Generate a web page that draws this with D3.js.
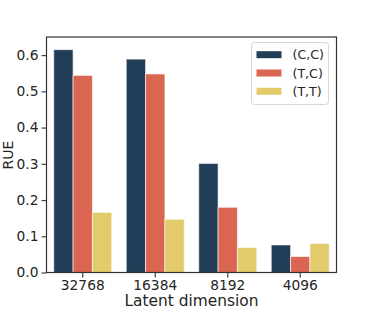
<!DOCTYPE html>
<html><head><meta charset="utf-8">
<script src="https://cdn.jsdelivr.net/npm/d3@7"></script>
<style>body{margin:0;background:#fff}svg{display:block}text{font-family:"DejaVu Sans",sans-serif;fill:#262626}</style>
</head><body><svg id="c" width="374" height="312"></svg>
<script>
const categories = ["32768","16384","8192","4096"];
const seriesNames = ["(C,C)","(T,C)","(T,T)"];
const valuesCC = [0.615,0.589,0.301,0.076];
const valuesTC = [0.544,0.548,0.180,0.044];
const valuesTT = [0.166,0.147,0.069,0.080];
const yTicks = [0.0,0.1,0.2,0.3,0.4,0.5,0.6];
const colors = ["#213d58","#da6651","#e3ca6b"];
const seriesValues = [valuesCC,valuesTC,valuesTT];

const svg = d3.select("#c");
const m = {l:46.5,t:37,r:336.5,b:272.5};
const x = d3.scaleBand().domain(categories).range([m.l,m.r]).paddingInner(0.2).paddingOuter(0.1);
const xs = d3.scaleBand().domain(seriesNames).range([0,x.bandwidth()]);
const y = d3.scaleLinear().domain([0,0.65]).range([m.b,m.t]);

categories.forEach((c,i)=>{
  seriesNames.forEach((s,j)=>{
    const v = seriesValues[j][i];
    svg.append("rect").attr("x",x(c)+xs(s)).attr("y",y(v)).attr("width",xs.bandwidth()).attr("height",y(0)-y(v))
      .attr("fill",colors[j]).attr("stroke","#fff").attr("stroke-opacity",0.6).attr("stroke-width",1);
  });
});

const gx = svg.append("g").attr("transform",`translate(0,${m.b})`).call(d3.axisBottom(x).tickSize(5).tickPadding(3));
const gy = svg.append("g").attr("transform",`translate(${m.l},0)`).call(d3.axisLeft(y).tickValues(yTicks).tickFormat(d3.format(".1f")).tickSize(5).tickPadding(3));
[gx,gy].forEach(g=>{g.select(".domain").remove();g.selectAll("line").attr("stroke","#444").attr("stroke-width",1.2);g.selectAll("text").attr("font-size",13.8).attr("fill","#262626").style("font-family","DejaVu Sans");});
svg.append("rect").attr("x",m.l).attr("y",m.t).attr("width",m.r-m.l).attr("height",m.b-m.t).attr("fill","none").attr("stroke","#333").attr("stroke-width",1.2);

svg.append("text").attr("x",(m.l+m.r)/2).attr("y",306).attr("text-anchor","middle").attr("font-size",15.4).text("Latent dimension");
svg.append("text").attr("transform",`translate(13,155) rotate(-90)`).attr("text-anchor","middle").attr("font-size",14).text("RUE");

const lg = svg.append("g");
lg.append("rect").attr("x",251.5).attr("y",42.5).attr("width",77).attr("height",62).attr("rx",3).attr("fill","#fff").attr("fill-opacity",0.8).attr("stroke","#d6d6d6");
seriesNames.forEach((s,j)=>{
  const cy = 54.7 + j*18.3;
  lg.append("rect").attr("x",256.5).attr("y",cy-3.5).attr("width",25).attr("height",7).attr("fill",colors[j]);
  lg.append("text").attr("x",292.5).attr("y",cy).attr("dy","0.36em").attr("font-size",12.6).text(s);
});
</script></body></html>
